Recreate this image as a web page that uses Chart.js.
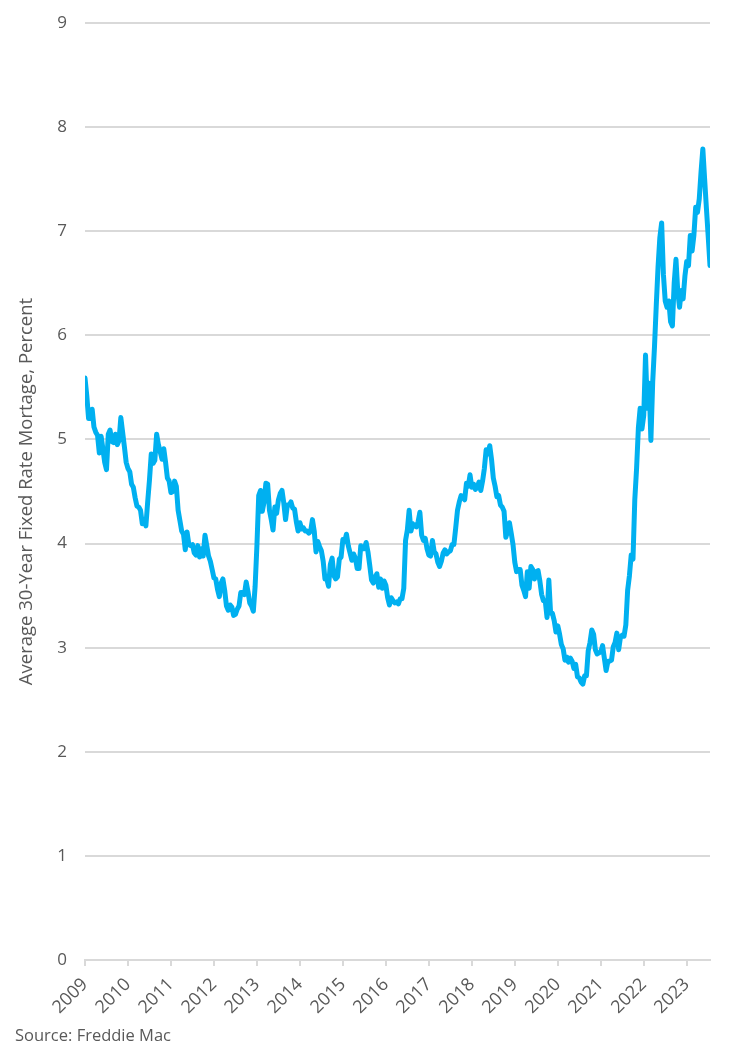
<!DOCTYPE html>
<html>
<head>
<meta charset="utf-8">
<script src="https://cdn.jsdelivr.net/npm/chart.js@4.4.0/dist/chart.umd.min.js"></script>
<style>
  html, body { margin: 0; padding: 0; background: #fff; }
  #wrap { width: 750px; height: 1051px; }
</style>
</head>
<body>
<div id="wrap"><canvas id="chart"></canvas></div>
<script>
// Freddie Mac 30-year fixed rate, roughly two readings a month
let years = [2009, 2010, 2011, 2012, 2013, 2014, 2015, 2016, 2017, 2018, 2019, 2020, 2021, 2022, 2023];
let tickYears = ["2009", "2010", "2011", "2012", "2013", "2014", "2015", "2016", "2017", "2018", "2019", "2020", "2021", "2022", "2023"];

// 2009 starts in June
let rates2009 = [5.59, 5.42, 5.20, 5.20, 5.29, 5.12, 5.07, 5.04, 4.87, 5.03, 4.91, 4.78, 4.71, 5.05];
let rates2010 = [5.09, 4.98, 4.97, 5.05, 4.95, 4.99, 5.21, 5.07, 4.93, 4.78, 4.72, 4.69, 4.57, 4.54, 4.44, 4.36, 4.35, 4.32, 4.19, 4.23, 4.17, 4.40, 4.61, 4.86];
let rates2011 = [4.77, 4.80, 5.05, 4.95, 4.88, 4.81, 4.91, 4.78, 4.63, 4.60, 4.49, 4.50, 4.60, 4.55, 4.32, 4.22, 4.12, 4.09, 3.94, 4.11, 3.99, 3.98, 3.99, 3.91];
let rates2012 = [3.89, 3.98, 3.87, 3.95, 3.88, 4.08, 3.98, 3.88, 3.83, 3.75, 3.67, 3.66, 3.56, 3.49, 3.62, 3.66, 3.55, 3.40, 3.36, 3.41, 3.39, 3.31, 3.32, 3.37];
let rates2013 = [3.40, 3.53, 3.53, 3.51, 3.63, 3.54, 3.43, 3.40, 3.35, 3.59, 3.98, 4.46, 4.51, 4.31, 4.40, 4.58, 4.57, 4.32, 4.23, 4.13, 4.35, 4.29, 4.42, 4.48];
let rates2014 = [4.51, 4.39, 4.23, 4.37, 4.37, 4.40, 4.34, 4.33, 4.21, 4.12, 4.20, 4.14, 4.15, 4.12, 4.12, 4.10, 4.12, 4.23, 4.12, 3.92, 4.02, 3.97, 3.93, 3.83];
let rates2015 = [3.66, 3.66, 3.59, 3.80, 3.86, 3.69, 3.66, 3.68, 3.85, 3.87, 4.04, 4.02, 4.09, 3.98, 3.91, 3.84, 3.90, 3.86, 3.76, 3.76, 3.98, 3.95, 3.95, 4.01];
let rates2016 = [3.92, 3.79, 3.65, 3.62, 3.68, 3.71, 3.58, 3.66, 3.57, 3.64, 3.60, 3.48, 3.41, 3.48, 3.45, 3.43, 3.44, 3.42, 3.47, 3.47, 3.57, 4.03, 4.13, 4.32];
let rates2017 = [4.12, 4.19, 4.17, 4.16, 4.21, 4.30, 4.08, 4.03, 4.05, 3.95, 3.89, 3.88, 4.03, 3.92, 3.90, 3.82, 3.78, 3.83, 3.91, 3.94, 3.90, 3.92, 3.93, 3.99];
let rates2018 = [3.99, 4.15, 4.32, 4.40, 4.46, 4.45, 4.42, 4.58, 4.55, 4.66, 4.54, 4.57, 4.52, 4.54, 4.59, 4.51, 4.60, 4.72, 4.90, 4.86, 4.94, 4.81, 4.63, 4.55];
let rates2019 = [4.45, 4.46, 4.37, 4.35, 4.31, 4.06, 4.12, 4.20, 4.10, 3.99, 3.82, 3.73, 3.75, 3.75, 3.60, 3.55, 3.49, 3.73, 3.57, 3.78, 3.75, 3.66, 3.73, 3.74];
let rates2020 = [3.64, 3.51, 3.45, 3.45, 3.29, 3.65, 3.33, 3.33, 3.26, 3.15, 3.21, 3.13, 3.03, 2.99, 2.88, 2.91, 2.86, 2.90, 2.87, 2.80, 2.84, 2.72, 2.71, 2.67];
let rates2021 = [2.65, 2.73, 2.73, 2.97, 3.05, 3.17, 3.13, 2.98, 2.94, 2.95, 2.96, 3.02, 2.90, 2.78, 2.87, 2.87, 2.88, 3.01, 3.05, 3.14, 2.98, 3.10, 3.12, 3.11];
let rates2022 = [3.22, 3.55, 3.69, 3.89, 3.85, 4.42, 4.72, 5.11, 5.30, 5.10, 5.23, 5.81, 5.30, 5.54, 4.99, 5.55, 5.89, 6.29, 6.66, 6.94, 7.08, 6.58, 6.33, 6.27];
let rates2023 = [6.33, 6.13, 6.09, 6.50, 6.73, 6.42, 6.27, 6.43, 6.35, 6.57, 6.71, 6.67, 6.96, 6.81, 6.96, 7.23, 7.18, 7.31, 7.57, 7.79, 7.50, 7.22, 6.95, 6.67];

let ratesByYear = [rates2009, rates2010, rates2011, rates2012, rates2013, rates2014, rates2015, rates2016,
    rates2017, rates2018, rates2019, rates2020, rates2021, rates2022, rates2023];

// place each reading at its half-month inside the year
let points = [];
years.forEach((yr, k) => {
    let arr = ratesByYear[k];
    let offset = 24 - arr.length;
    arr.forEach((v, i) => {
        points.push({ x: yr + (offset + i + 0.5) / 24, y: v });
    });
});

let xStart = points[0].x;
let xEnd = points[points.length - 1].x;

let gray = "#595959";
let gridColor = "#d9d9d9";
Chart.defaults.font.family = "'Open Sans', sans-serif";
Chart.defaults.color = gray;

// source note under the axis
const sourceNote = {
    id: "sourceNote",
    afterDraw(chart) {
        let ctx = chart.ctx;
        ctx.save();
        ctx.font = "16.5px 'Open Sans', sans-serif";
        ctx.fillStyle = gray;
        ctx.textAlign = "left";
        ctx.textBaseline = "alphabetic";
        ctx.fillText("Source: Freddie Mac", 15, 1041);
        ctx.restore();
    }
};

new Chart(document.getElementById("chart"), {
    type: "line",
    data: {
        datasets: [{
            data: points,
            borderColor: "#00b0f0",
            borderWidth: 5,
            pointRadius: 0,
            tension: 0,
            borderJoinStyle: "round",
            borderCapStyle: "round"
        }]
    },
    options: {
        responsive: true,
        maintainAspectRatio: false,
        animation: false,
        layout: {
            padding: { left: 0, right: 40, top: 23, bottom: 0 }
        },
        plugins: {
            legend: { display: false },
            tooltip: { enabled: false }
        },
        scales: {
            x: {
                type: "linear",
                min: xStart,
                max: xEnd,
                afterBuildTicks: (scale) => {
                    scale.ticks = tickYears.map((t, k) => ({ value: xStart + k }));
                },
                afterFit: (scale) => { scale.height = 91; },
                ticks: {
                    autoSkip: false,
                    minRotation: 45,
                    maxRotation: 45,
                    padding: 8,
                    font: { size: 18 },
                    color: gray,
                    callback: (v, i) => tickYears[i]
                },
                grid: {
                    drawOnChartArea: false,
                    drawTicks: true,
                    tickLength: 6,
                    color: gridColor,
                    lineWidth: 2
                },
                border: { color: gridColor, width: 2 }
            },
            y: {
                min: 0,
                max: 9,
                afterFit: (scale) => {
                    scale.width = 85;
                    scale.paddingTop = 0;
                    scale.paddingBottom = 0;
                },
                ticks: {
                    stepSize: 1,
                    padding: 18,
                    font: { size: 17 },
                    color: gray
                },
                grid: {
                    color: gridColor,
                    lineWidth: 2,
                    drawTicks: false
                },
                border: { display: false },
                title: {
                    display: true,
                    text: "Average 30-Year Fixed Rate Mortage, Percent",
                    color: gray,
                    font: { size: 18.5 },
                    padding: { top: 16, bottom: 0 }
                }
            }
        }
    },
    plugins: [sourceNote]
});
</script>
</body>
</html>
